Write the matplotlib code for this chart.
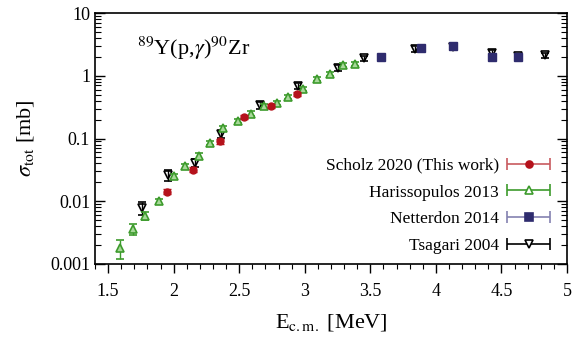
import matplotlib
matplotlib.use("Agg")
import matplotlib.pyplot as plt
from matplotlib.ticker import MultipleLocator, LogLocator, FixedFormatter, FixedLocator
from matplotlib.legend_handler import HandlerErrorbar
from matplotlib.container import ErrorbarContainer

plt.rcParams['font.family'] = ['Liberation Serif', 'DejaVu Serif']
plt.rcParams['mathtext.fontset'] = 'stix'

# Scholz 2020 (This work)
sch_e = [1.95, 2.15, 2.35, 2.54, 2.74, 2.94]
sch_s = [0.0143, 0.032, 0.091, 0.22, 0.33, 0.52]
sch_err = [0.0012, 0.003, 0.008, 0.018, 0.026, 0.04]

# Harissopulos 2013
har_e = [1.59, 1.69, 1.78, 1.89, 2.00, 2.09, 2.19, 2.28, 2.38, 2.49, 2.59,
         2.69, 2.79, 2.87, 2.99, 3.09, 3.19, 3.29, 3.38]
har_s = [0.0018, 0.0036, 0.0059, 0.010, 0.025, 0.036, 0.053, 0.085, 0.145,
         0.19, 0.25, 0.33, 0.37, 0.46, 0.61, 0.90, 1.07, 1.48, 1.55]
har_err = [0.0006, 0.0007, 0.0008, 0.001, 0.002, 0.003, 0.005, 0.007, 0.012,
           0.015, 0.02, 0.025, 0.03, 0.035, 0.045, 0.07, 0.08, 0.11, 0.12]

# Netterdon 2014
net_e = [3.58, 3.89, 4.13, 4.43, 4.63]
net_s = [1.97, 2.77, 3.0, 2.0, 2.0]
net_err = [0.2, 0.25, 0.3, 0.25, 0.2]

# Tsagari 2004
tsa_e = [1.76, 1.96, 2.16, 2.36, 2.66, 2.95, 3.25, 3.45, 3.84, 4.13, 4.43, 4.63, 4.83]
tsa_s = [0.0079, 0.026, 0.041, 0.118, 0.34, 0.69, 1.34, 1.9, 2.7, 2.9, 2.3, 2.05, 2.14]
tsa_err = [0.0018, 0.005, 0.006, 0.015, 0.04, 0.08, 0.15, 0.2, 0.3, 0.3, 0.3, 0.2, 0.2]

labels = ['Scholz 2020 (This work)', 'Harissopulos 2013', 'Netterdon 2014', 'Tsagari 2004']

c_sch = '#b5121b'
c_har = '#3d9b2c'
c_net = '#2f2c6e'
c_tsa = 'black'

fig = plt.figure(figsize=(5.82, 3.38), dpi=100)
ax = fig.add_axes([95/582, 1 - 264/338, 472/582, 251/338])

ax.errorbar(tsa_e, tsa_s, yerr=tsa_err, fmt='v', color=c_tsa, mfc='none', ms=6,
            capsize=3, elinewidth=1, mew=1.2, zorder=3)
ax.errorbar(har_e, har_s, yerr=har_err, fmt='^', color=c_har, mfc='#a8d89a', ms=6,
            capsize=3, elinewidth=1, mew=1.2, zorder=4)
ax.errorbar(sch_e, sch_s, yerr=sch_err, fmt='o', color=c_sch, ms=5,
            capsize=3, elinewidth=1, zorder=5)
ax.errorbar(net_e, net_s, yerr=net_err, fmt='s', color=c_net, ms=6,
            capsize=3, elinewidth=1, zorder=5)

# legend proxies: marker with a horizontal bar
handles = []
for fmt, col, mfc, ms, ecol in [('o', c_sch, c_sch, 5, '#c85a5f'),
                                ('^', c_har, 'white', 6, c_har),
                                ('s', c_net, c_net, 6, '#8482b0'),
                                ('v', c_tsa, 'white', 6, c_tsa)]:
    h = ax.errorbar([10], [10], xerr=[1], fmt=fmt, color=col, mfc=mfc, ms=ms,
                    ecolor=ecol, capsize=4, elinewidth=1.2, mew=1.2)
    handles.append(h)
ax.legend(handles, labels, loc='lower right', bbox_to_anchor=(0.985, -0.01),
          frameon=False, markerfirst=False, fontsize=12.5, handlelength=2.2,
          labelspacing=0.62, handletextpad=0.6, borderaxespad=0.3,
          handler_map={ErrorbarContainer: HandlerErrorbar(xerr_size=1.25)})

ax.set_yscale('log')
ax.set_xlim(1.4, 5.0)
ax.set_ylim(0.001, 10)
ax.set_xticks([1.5, 2, 2.5, 3, 3.5, 4, 4.5, 5])
ax.set_xticklabels(['1.5', '2', '2.5', '3', '3.5', '4', '4.5', '5'])
ax.xaxis.set_minor_locator(MultipleLocator(0.1))
ax.yaxis.set_major_locator(FixedLocator([0.001, 0.01, 0.1, 1, 10]))
ax.yaxis.set_major_formatter(FixedFormatter(['0.001', '0.01', '0.1', '1', '10']))
ax.yaxis.set_minor_locator(LogLocator(base=10, subs=range(2, 10), numticks=20))
ax.tick_params(axis='y', which='both', direction='in', left=True, right=True, labelsize=13)
ax.tick_params(axis='y', which='major', length=7, width=1)
ax.tick_params(axis='y', which='minor', length=4, width=0.8)
ax.tick_params(axis='x', which='both', direction='out', top=False, labelsize=13, pad=7)
ax.tick_params(axis='x', which='major', length=6.5, width=1)
ax.tick_params(axis='x', which='minor', length=3.5, width=0.8)
for s in ax.spines.values():
    s.set_linewidth(1.2)

ax.set_xlabel(r'E$_{\mathrm{c.m.}}$ [MeV]', fontsize=16, labelpad=9)
ax.set_ylabel(r'$\sigma_{\mathrm{tot}}$ [mb]', fontsize=16, labelpad=10)
ax.text(0.09, 0.835, r'$^{89}$Y(p,$\gamma$)$^{90}$Zr', transform=ax.transAxes, fontsize=16)

fig.savefig('out.png', dpi=100)
